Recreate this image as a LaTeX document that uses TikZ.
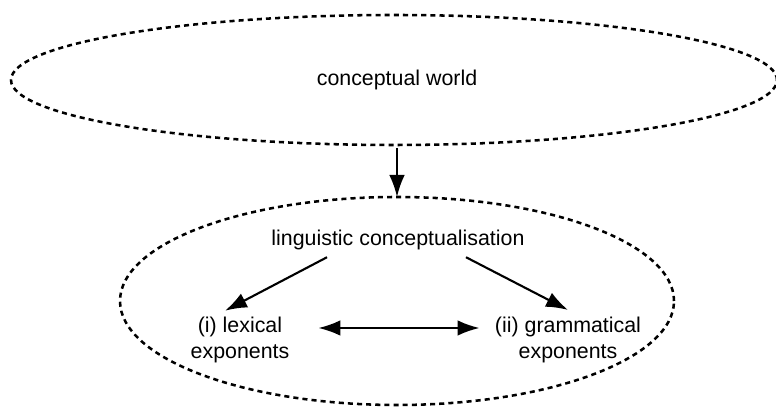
\documentclass[tikz,border=0pt]{standalone}
\usepackage{fontspec}
\setmainfont{Liberation Sans}
\usetikzlibrary{arrows.meta,shapes.geometric}

\tikzset{
  dotline/.style={line width=1.8pt, dash pattern=on 3.6pt off 2.9pt},
  arr/.style={line width=1.5pt, -{Latex[length=5.5mm,width=3.9mm]}},
  darr/.style={line width=1.5pt, {Latex[length=5.5mm,width=3.9mm]}-{Latex[length=5.5mm,width=3.9mm]}},
  lbl/.style={font=\fontsize{15.2}{18.5}\selectfont, align=center, inner sep=0pt},
  blob/.style={ellipse, draw, dotline, inner sep=0pt, outer sep=0pt},
}

\begin{document}
\begin{tikzpicture}
	%%%%% frame %%%%%
	\useasboundingbox (0,0) rectangle (19.4,10.2);
	
	%%%%% the two realms %%%%%
	\node[blob, minimum width=19.15cm, minimum height=3.25cm] (world) at (9.85, 8.2) {};
	\node[blob, minimum width=13.85cm, minimum height=5.2cm] (realm) at (9.925, 2.675) {};
	
	\node[lbl] (cw) at (9.925, 8.2) {conceptual world};
	\node[lbl] (lc) at (9.95, 4.2) {linguistic conceptualisation};
	\node[lbl] (lex) at (6.0, 1.7) {(i) lexical\\exponents};
	\node[lbl] (gram) at (14.2, 1.7) {(ii) grammatical\\exponents};
	
	%%%%% arrows %%%%%
	\draw[arr, shorten <=0.075cm] (realm.north |- world.south) -- (realm.north);
	\draw[arr] ([xshift=-1.775cm, yshift=-0.175cm]lc.south) -- ([xshift=-0.375cm, yshift=0.15cm]lex.north);
	\draw[arr] ([xshift=1.7cm, yshift=-0.175cm]lc.south) -- ([yshift=0.17cm]gram.north);
	\draw[darr, shorten <=0.72cm, shorten >=0.38cm] ([yshift=0.3cm]lex.east) -- ([yshift=0.3cm]gram.west);
\end{tikzpicture}
\end{document}
